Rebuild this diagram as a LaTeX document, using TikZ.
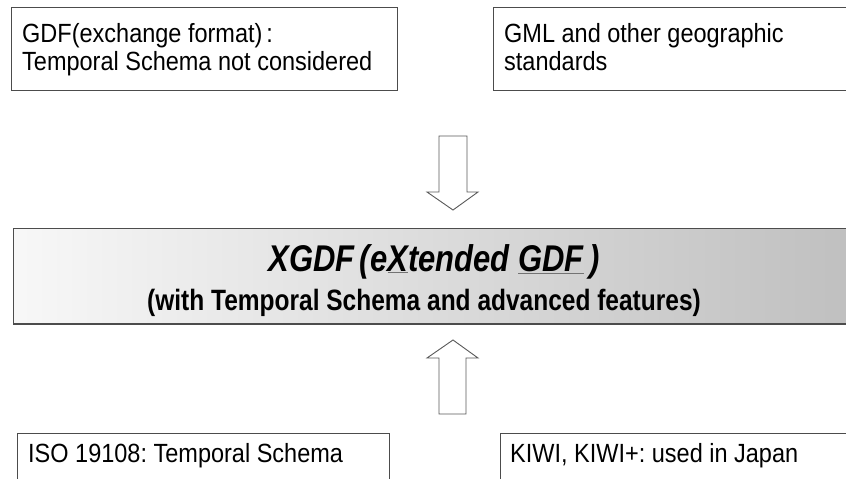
\documentclass[tikz,border=0pt]{standalone}
\usepackage{fontspec}
\setmainfont{Liberation Sans}
\usetikzlibrary{calc}
\frenchspacing
\definecolor{edge}{gray}{0.3}
\tikzset{
  plainbox/.style={draw=edge, line width=1.1pt, fill=white, inner sep=0pt, anchor=north west},
  boxline/.style={anchor=base west, inner sep=0pt, font=\fontsize{23.5}{26}\selectfont},
  titleline/.style={anchor=base, inner sep=0pt},
  blockarrow/.style={draw=black!65, line width=0.9pt, fill=white, line join=miter},
}
% tall, slightly condensed look of the box texts
\newcommand\tallish[1]{\scalebox{1}[1.12]{#1}}
\newcommand\grayul[1]{{\color{black!55}\underline{\textcolor{black}{#1}}}}
\begin{document}
\begin{tikzpicture}[x=1pt,y=-1pt]
\clip (0,0) rectangle (846,479);
\fill[white] (0,0) rectangle (846,479);

% top sources
\node[plainbox, minimum width=386pt, minimum height=83pt] (gdf) at (11,7) {};
\node[boxline] (gdfa) at ($(gdf.north west)+(11,35)$) {\tallish{GDF(exchange format)\,:}};
\node[boxline] (gdfb) at ($(gdf.north west)+(11,63)$) {\tallish{Temporal Schema not considered}};

\node[plainbox, minimum width=360pt, minimum height=83pt] (gml) at (493,7) {};
\node[boxline] (gmla) at ($(gml.north west)+(11,35)$) {\tallish{GML and other geographic}};
\node[boxline] (gmlb) at ($(gml.north west)+(11,63)$) {\tallish{standards}};

% central result
\node[draw=edge, line width=0.9pt, left color=black!3, right color=black!25,
      inner sep=0pt, anchor=north west, minimum width=845pt, minimum height=95pt] (xgdf) at (13,228) {};
\draw[edge, line width=2pt] (xgdf.south west) -- (xgdf.south east);
\node[titleline, font=\fontsize{31}{34}\bfseries\itshape\selectfont] (xgdfa) at (434,271)
  {\scalebox{1}[1.2]{XGDF\,(e\grayul{X}tended \grayul{GDF}\,)}};
\node[titleline, font=\fontsize{24.5}{28}\bfseries\selectfont] (xgdfb) at (424,310)
  {\scalebox{1}[1.2]{(with Temporal Schema and advanced features)}};

% block arrows into the result
\draw[blockarrow] (439,136) -- (467,136) -- (467,192) -- (478,192) -- (453,210)
  -- (427,192) -- (439,192) -- cycle;
\draw[blockarrow] (439,414) -- (466,414) -- (466,358) -- (478,358) -- (453,340)
  -- (427,358) -- (439,358) -- cycle;

% bottom sources
\node[plainbox, minimum width=372pt, minimum height=60pt] (iso) at (17,433) {};
\node[boxline] (isoa) at ($(iso.north west)+(11,29)$) {\tallish{ISO 19108: Temporal Schema}};

\node[plainbox, minimum width=360pt, minimum height=60pt] (kiwi) at (500,433) {};
\node[boxline] (kiwia) at ($(kiwi.north west)+(10,29)$) {\tallish{KIWI, KIWI+: used in Japan}};
\end{tikzpicture}
\end{document}
